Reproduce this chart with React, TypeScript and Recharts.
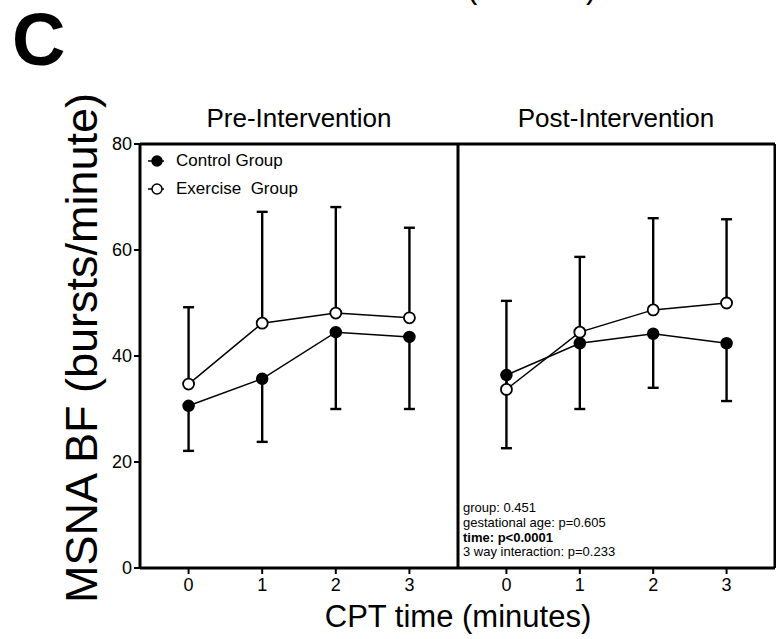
import { LineChart, Line, XAxis, YAxis, ErrorBar, ReferenceLine } from 'recharts'

// CPT time points (minutes)
const times = [0, 1, 2, 3]

// Pre-Intervention (means, control SD drawn down, exercise SD drawn up)
const preControl = [30.6, 35.7, 44.5, 43.6]
const preControlLow = [22.1, 23.8, 30.0, 30.0]
const preExercise = [34.7, 46.2, 48.1, 47.2]
const preExerciseHigh = [49.2, 67.2, 68.1, 64.2]

// Post-Intervention
const postControl = [36.4, 42.4, 44.2, 42.4]
const postControlLow = [22.6, 30.0, 34.0, 31.5]
const postExercise = [33.7, 44.5, 48.7, 50.0]
const postExerciseHigh = [50.4, 58.7, 66.0, 65.8]

const yTicks = [0, 20, 40, 60, 80]
const legendItems = [
  { label: 'Control Group', fill: '#000' },
  { label: 'Exercise  Group', fill: '#fff' },
]
const statsLines = [
  { text: 'group: 0.451', bold: false },
  { text: 'gestational age: p=0.605', bold: false },
  { text: 'time: p<0.0001', bold: true },
  { text: '3 way interaction: p=0.233', bold: false },
]

const FONT = '"Liberation Sans", Arial, Helvetica, sans-serif'
const X_DOMAIN: [number, number] = [-0.66, 3.66]
const FRAME = { stroke: '#000', strokeWidth: 3 }

function buildRows(ctrl: number[], ctrlLow: number[], ex: number[], exHigh: number[]) {
  return times.map((t, i) => ({
    t,
    ctrl: ctrl[i],
    ex: ex[i],
    ctrlErr: [+(ctrl[i] - ctrlLow[i]).toFixed(2), 0],
    exErr: [0, +(exHigh[i] - ex[i]).toFixed(2)],
  }))
}

const preRows = buildRows(preControl, preControlLow, preExercise, preExerciseHigh)
const postRows = buildRows(postControl, postControlLow, postExercise, postExerciseHigh)

function LegendBox() {
  return (
    <div style={{ position: 'absolute', left: 147, top: 147, fontFamily: FONT, fontSize: 17, color: '#000' }}>
      {legendItems.map((it) => (
        <div key={it.label} style={{ display: 'flex', alignItems: 'center', height: 28, whiteSpace: 'pre' }}>
          <svg width={20} height={14} style={{ marginRight: 9 }}>
            <line x1={1} y1={7} x2={17} y2={7} stroke="#000" strokeWidth={1.5} />
            <circle cx={10} cy={7} r={5} fill={it.fill} stroke="#000" strokeWidth={1.5} />
          </svg>
          {it.label}
        </div>
      ))}
    </div>
  )
}

function SeriesLines() {
  return [
    <Line
      key="ctrl"
      type="linear"
      dataKey="ctrl"
      stroke="#000"
      strokeWidth={1.5}
      dot={{ r: 5.5, fill: '#000', stroke: '#000', strokeWidth: 1.5 }}
      activeDot={false}
      isAnimationActive={false}
    >
      <ErrorBar dataKey="ctrlErr" direction="y" width={5.5} stroke="#000" strokeWidth={2.4} />
    </Line>,
    <Line
      key="ex"
      type="linear"
      dataKey="ex"
      stroke="#000"
      strokeWidth={1.5}
      dot={{ r: 5.5, fill: '#fff', stroke: '#000', strokeWidth: 1.8 }}
      activeDot={false}
      isAnimationActive={false}
    >
      <ErrorBar dataKey="exErr" direction="y" width={5.5} stroke="#000" strokeWidth={2.4} />
    </Line>,
  ]
}

const xAxisProps = {
  dataKey: 't',
  type: 'number' as const,
  domain: X_DOMAIN,
  ticks: times,
  height: 30,
  axisLine: FRAME,
  tickLine: { stroke: '#000', strokeWidth: 2 },
  tickSize: 6,
  tickMargin: 4,
  tick: { fontSize: 18, fill: '#000' },
}

export default function App() {
  return (
    <div
      style={{
        position: 'absolute',
        left: 0,
        top: 0,
        width: 776,
        height: 639,
        background: '#fff',
        fontFamily: FONT,
        overflow: 'hidden',
      }}
    >
      <div style={{ position: 'absolute', left: 0, top: 0 }}>
        <LineChart width={460} height={639} data={preRows} margin={{ top: 144, right: 2, bottom: 41, left: 80 }}>
          <XAxis {...xAxisProps} />
          <YAxis
            domain={[0, 80]}
            ticks={yTicks}
            width={60}
            axisLine={FRAME}
            tickLine={{ stroke: '#000', strokeWidth: 2 }}
            tickSize={6}
            tickMargin={2}
            tick={{ fontSize: 18, fill: '#000' }}
          />
          <ReferenceLine y={80} {...FRAME} />
          <ReferenceLine x={X_DOMAIN[1]} {...FRAME} />
          {SeriesLines()}
        </LineChart>
      </div>
      <div style={{ position: 'absolute', left: 456, top: 0 }}>
        <LineChart width={320} height={639} data={postRows} margin={{ top: 144, right: 1, bottom: 41, left: 2 }}>
          <XAxis {...xAxisProps} />
          <YAxis hide domain={[0, 80]} ticks={yTicks} />
          <ReferenceLine y={80} {...FRAME} />
          <ReferenceLine x={X_DOMAIN[1]} {...FRAME} />
          {SeriesLines()}
        </LineChart>
      </div>
      <LegendBox />
      <svg
        width={776}
        height={639}
        style={{ position: 'absolute', left: 0, top: 0, pointerEvents: 'none', fontFamily: FONT }}
      >
        <text x={463} y={-2} fontSize={31} textAnchor="middle" fill="#000">CPT time (minutes)</text>
        <text x={12} y={65} fontSize={74} fontWeight="bold" fill="#000">C</text>
        <text x={299} y={127} fontSize={26} textAnchor="middle" fill="#000">Pre-Intervention</text>
        <text x={616} y={127} fontSize={26} textAnchor="middle" fill="#000">Post-Intervention</text>
        <text
          x={0}
          y={0}
          fontSize={45}
          textAnchor="middle"
          fill="#000"
          transform="translate(97,348) rotate(-90)"
        >
          MSNA BF (bursts/minute)
        </text>
        <text x={458} y={627} fontSize={31} textAnchor="middle" fill="#000">CPT time (minutes)</text>
        {statsLines.map((s, i) => (
          <text key={s.text} x={463} y={512 + i * 14.8} fontSize={13} fontWeight={s.bold ? 'bold' : 'normal'} fill="#000">
            {s.text}
          </text>
        ))}
      </svg>
    </div>
  )
}
